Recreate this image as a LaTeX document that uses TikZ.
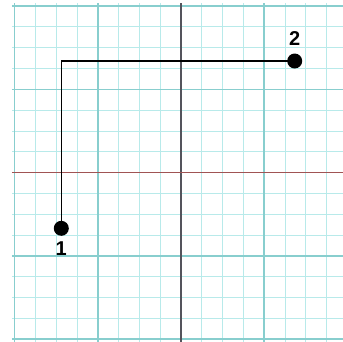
\documentclass[tikz,border=0pt]{standalone}
\usepackage{fontspec}
\setmainfont{Liberation Sans}
\usetikzlibrary{positioning}
\definecolor{gridminor}{RGB}{184,234,234}
\definecolor{gridmajor}{RGB}{136,206,206}
\definecolor{axisx}{RGB}{160,84,84}
\definecolor{axisy}{RGB}{84,84,92}
\begin{document}
\begin{tikzpicture}[x=20.8pt,y=20.8pt,line width=1pt,
  dot/.style={circle,fill=black,inner sep=0pt,minimum size=15pt},
  digit/.style={font=\fontsize{20}{20}\selectfont\bfseries,inner sep=0pt}]
\useasboundingbox (-8.702,-8.096) rectangle (7.788,8.298);
% feine Gitterlinien
\foreach \k in {-8,...,8}{
  \draw[gridminor,line width=1pt] (\k,-8.2) -- (\k,8.13);
  \draw[gridminor,line width=1pt] (-8.13,\k) -- (8,\k);
}
% kraeftigere Linien alle 4 Einheiten
\foreach \k in {-8,-4,4,8}{
  \draw[gridmajor,line width=1.5pt] (\k,-8.2) -- (\k,8.13);
  \draw[gridmajor,line width=1.5pt] (-8.13,\k) -- (8,\k);
}
% Achsen
\draw[axisy,line width=1.2pt] (0,-8.2) -- (0,8.13);
\draw[axisx,line width=1.3pt] (-8.13,0) -- (8,0);
% Eckpunkte 1 und 2
\node[dot] (p1) at (-5.755,-2.678) {};
\node[dot] (p2) at (5.466,5.365) {};
\node[digit,below=5pt of p1] (lab1) {1};
\node[digit,above=7pt of p2] (lab2) {2};
% Rechteck zwischen den Punkten
\draw[black,line width=1.2pt] (p1.center) |- (p2.center) -| (p1.center);
\end{tikzpicture}
\end{document}
